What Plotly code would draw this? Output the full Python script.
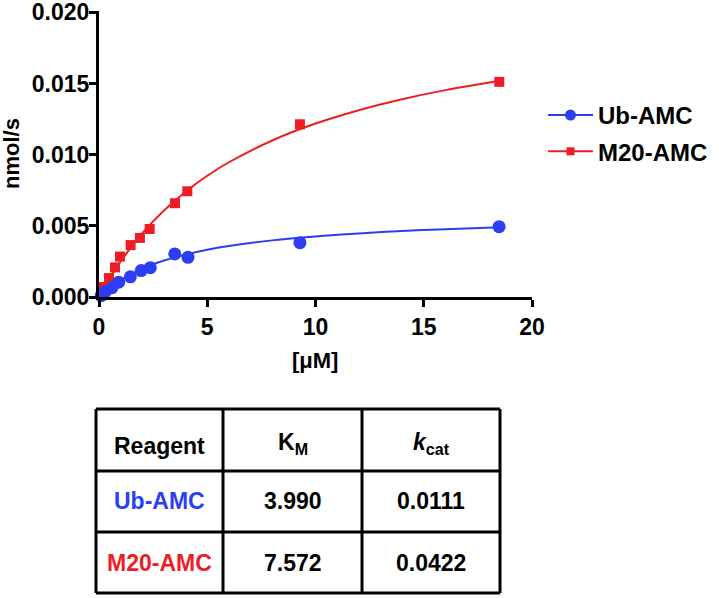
import plotly.graph_objects as go

W, H = 719, 598

# ---- data ----
ub_conc = [0.1, 0.29, 0.6, 0.91, 1.45, 1.95, 2.37, 3.5, 4.11, 9.28, 18.48]
ub_rate = [0.0001, 0.00037, 0.00065, 0.00104, 0.00142, 0.00186, 0.00206, 0.00303, 0.00279, 0.00382, 0.00494]
m20_conc = [0.2, 0.46, 0.74, 0.97, 1.46, 1.89, 2.34, 3.51, 4.08, 9.28, 18.49]
m20_rate = [0.0007, 0.00133, 0.00208, 0.00284, 0.00365, 0.00415, 0.00478, 0.00659, 0.00743, 0.01214, 0.01512]

# fitted curves
fit_x = [0, 0.5, 1, 2, 3, 4, 5, 6, 8, 10, 12, 14, 16, 18.5]
ub_fit = [0, 0.00066, 0.00119, 0.00199, 0.00256, 0.00298, 0.00332, 0.00358, 0.00398, 0.00426, 0.00447, 0.00464, 0.00477, 0.00490]
m20_fit = [0, 0.00133, 0.00250, 0.00448, 0.00608, 0.00740, 0.00852, 0.00947, 0.01100, 0.01219, 0.01313, 0.01390, 0.01454, 0.01520]

x_ticks = [0, 5, 10, 15, 20]
y_ticks = [0.0, 0.005, 0.010, 0.015, 0.020]
y_tick_text = ["0.000", "0.005", "0.010", "0.015", "0.020"]

series_names = ["Ub-AMC", "M20-AMC"]
table_header = ["Reagent", "K<sub>M</sub>", "<i>k</i><sub>cat</sub>"]
km_values = ["3.990", "7.572"]
kcat_values = ["0.0111", "0.0422"]

BLUE = "#2b3ef2"
RED = "#ee1c25"
FONT = "Liberation Sans, Arial, sans-serif"


def px(x):
    return x / W


def py(y):
    return 1 - y / H


fig = go.Figure()

# fitted lines
fig.add_trace(go.Scatter(x=fit_x, y=ub_fit, mode="lines", line=dict(color=BLUE, width=2, shape="spline"),
                         showlegend=False, hoverinfo="skip"))
fig.add_trace(go.Scatter(x=fit_x, y=m20_fit, mode="lines", line=dict(color=RED, width=2, shape="spline"),
                         showlegend=False, hoverinfo="skip"))
# data points
fig.add_trace(go.Scatter(x=m20_conc, y=m20_rate, mode="markers",
                         marker=dict(symbol="square", size=10, color=RED), showlegend=False, cliponaxis=False))
fig.add_trace(go.Scatter(x=ub_conc, y=ub_rate, mode="markers",
                         marker=dict(symbol="circle", size=13, color=BLUE), showlegend=False, cliponaxis=False))
# legend entries
fig.add_trace(go.Scatter(x=[None], y=[None], mode="lines+markers", name=series_names[0],
                         line=dict(color=BLUE, width=2), marker=dict(symbol="circle", size=11, color=BLUE),
                         legendgroup="a"))
fig.add_trace(go.Scatter(x=[None], y=[None], mode="lines+markers", name=series_names[1],
                         line=dict(color=RED, width=2), marker=dict(symbol="square", size=8, color=RED),
                         legendgroup="b"))

axis_font = dict(family=FONT, size=22, color="black", weight="bold")
tick_font = dict(family=FONT, size=23, color="black", weight="bold")
legend_font = dict(family=FONT, size=24, color="black", weight="bold")

fig.update_layout(
    width=W, height=H,
    margin=dict(l=0, r=0, t=0, b=0, autoexpand=False),
    paper_bgcolor="white", plot_bgcolor="white",
    font=dict(family=FONT, color="black"),
    xaxis=dict(domain=[px(99), px(532)], range=[0, 20], tickvals=x_ticks, automargin=False,
               ticklabeloverflow="allow",
               showline=True, linecolor="black", linewidth=3, ticks="outside", ticklen=7, tickwidth=3,
               tickcolor="black", showgrid=False, zeroline=False, tickfont=tick_font),
    yaxis=dict(domain=[py(297), py(11)], range=[0, 0.0201], tickvals=y_ticks, ticktext=y_tick_text,
               automargin=False, ticklabeloverflow="allow", ticklabelstandoff=-5,
               showline=True, linecolor="black", linewidth=3, ticks="outside", ticklen=7, tickwidth=3,
               tickcolor="black", showgrid=False, zeroline=False, tickfont=tick_font),
    legend=dict(x=px(543), y=py(93), xanchor="left", yanchor="top", font=legend_font,
                tracegroupgap=2, traceorder="grouped", bgcolor="rgba(0,0,0,0)", itemwidth=45),
)

# axis titles
fig.add_annotation(x=px(11), y=py(154), xref="paper", yref="paper", text="nmol/s", textangle=-90,
                   xanchor="center", yanchor="middle", showarrow=False, font=axis_font)
fig.add_annotation(x=px(315), y=py(360), xref="paper", yref="paper", text="[μM]",
                   xanchor="center", yanchor="middle", showarrow=False, font=axis_font)

# table
t_left, t_right = 96, 500
col_x = [96, 223, 362, 500]
row_y = [409, 471, 532, 593]
for xv in col_x:
    fig.add_shape(type="line", xref="paper", yref="paper", x0=px(xv), x1=px(xv), y0=py(row_y[0]), y1=py(row_y[-1]),
                  line=dict(color="black", width=3))
for yv in row_y:
    fig.add_shape(type="line", xref="paper", yref="paper", x0=px(t_left), x1=px(t_right), y0=py(yv), y1=py(yv),
                  line=dict(color="black", width=3))

cell_font = dict(family=FONT, size=23, color="black", weight="bold")
centers = [(col_x[i] + col_x[i + 1]) / 2 for i in range(3)]
header_y = [446, 444, 444]
for i, txt in enumerate(table_header):
    fig.add_annotation(x=px(centers[i]), y=py(header_y[i]), xref="paper", yref="paper", text=txt,
                       xanchor="center", yanchor="middle", showarrow=False, font=cell_font)

row_centers = [501, 563]
row_colors = [BLUE, RED]
for r in range(2):
    fig.add_annotation(x=px(centers[0]), y=py(row_centers[r]), xref="paper", yref="paper", text=series_names[r],
                       xanchor="center", yanchor="middle", showarrow=False,
                       font=dict(family=FONT, size=23, color=row_colors[r], weight="bold"))
    fig.add_annotation(x=px(centers[1]), y=py(row_centers[r]), xref="paper", yref="paper", text=km_values[r],
                       xanchor="center", yanchor="middle", showarrow=False, font=cell_font)
    fig.add_annotation(x=px(centers[2]), y=py(row_centers[r]), xref="paper", yref="paper", text=kcat_values[r],
                       xanchor="center", yanchor="middle", showarrow=False, font=cell_font)

fig.write_html("out.html", post_script="document.body.style.margin='0';",
               config={"displayModeBar": False})
